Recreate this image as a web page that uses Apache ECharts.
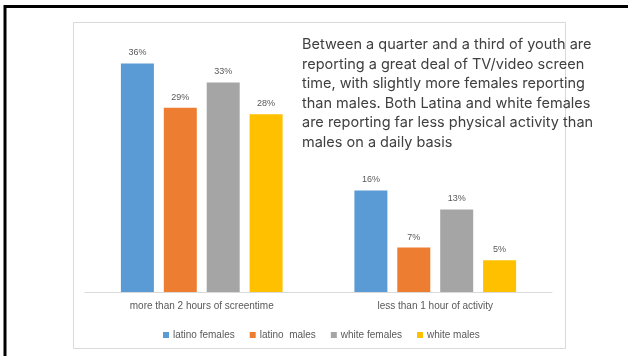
<!DOCTYPE html>
<html>
<head>
<meta charset="utf-8">
<script src="https://cdn.jsdelivr.net/npm/echarts@6/dist/echarts.min.js"></script>
<style>
  html, body { margin: 0; padding: 0; background: #fff; }
  #chart { width: 628px; height: 356px; }
</style>
</head>
<body>
<div id="chart"></div>
<script>
// Categories and series values (percent of youth)
const categories = ['more than 2 hours of screentime', 'less than 1 hour of activity'];
const seriesNames = ['latino females', 'latino  males', 'white females', 'white males'];
const latinoFemales = [36, 16];
const latinoMales = [29, 7];
const whiteFemales = [33, 13];
const whiteMales = [28, 5];
const seriesColors = ['#5B9BD5', '#ED7D31', '#A5A5A5', '#FFC000'];

const noteLines = [
  'Between a quarter and a third of youth are',
  'reporting a great deal of TV/video screen',
  'time, with slightly more females reporting',
  'than males. Both Latina and white females',
  'are reporting far less physical activity than',
  'males on a daily basis'
];

const labelFont = 'Liberation Sans, Arial, sans-serif';
const seriesData = [latinoFemales, latinoMales, whiteFemales, whiteMales];

const chart = echarts.init(document.getElementById('chart'), null, { renderer: 'canvas' });

chart.setOption({
  backgroundColor: '#fff',
  animation: false,
  grid: { left: 85, right: 76, top: 38, bottom: 64 },
  xAxis: {
    type: 'category',
    data: categories,
    axisLine: { lineStyle: { color: '#D9D9D9', width: 1 } },
    axisTick: { show: false },
    axisLabel: { color: '#595959', fontSize: 10, fontFamily: labelFont, margin: 9 }
  },
  yAxis: {
    type: 'value',
    min: 0,
    max: 40,
    show: false,
    splitLine: { show: false }
  },
  legend: {
    data: seriesNames,
    top: 325,
    left: 158,
    itemWidth: 6,
    itemHeight: 6,
    itemGap: 15,
    icon: 'rect',
    textStyle: { color: '#595959', fontSize: 10, fontFamily: labelFont, padding: [0, 0, 0, -1] }
  },
  series: seriesNames.map((name, i) => ({
    name: name,
    type: 'bar',
    data: seriesData[i],
    barWidth: 33,
    barGap: '30%',
    itemStyle: { color: seriesColors[i] },
    label: {
      show: true,
      position: 'top',
      distance: 6,
      formatter: '{c}%',
      color: '#595959',
      fontSize: 9,
      fontFamily: labelFont
    }
  })),
  graphic: [
    // outer black frame (top and left edges)
    { type: 'line', shape: { x1: 5, y1: 6.5, x2: 628, y2: 6.5 }, style: { stroke: '#000', lineWidth: 3 }, silent: true },
    { type: 'line', shape: { x1: 5, y1: 5, x2: 5, y2: 356 }, style: { stroke: '#000', lineWidth: 3 }, silent: true },
    // chart panel border
    { type: 'rect', shape: { x: 73.5, y: 22.5, width: 492, height: 326 }, style: { fill: null, stroke: '#D9D9D9', lineWidth: 1 }, silent: true, z: -1 },
    // annotation text
    {
      type: 'text',
      left: 302,
      top: 35,
      style: {
        text: noteLines.join('\n'),
        fill: '#404040',
        font: '14.5px Inter, "Open Sans", sans-serif',
        lineHeight: 19.5
      },
      z: 10
    }
  ]
});
</script>
</body>
</html>
